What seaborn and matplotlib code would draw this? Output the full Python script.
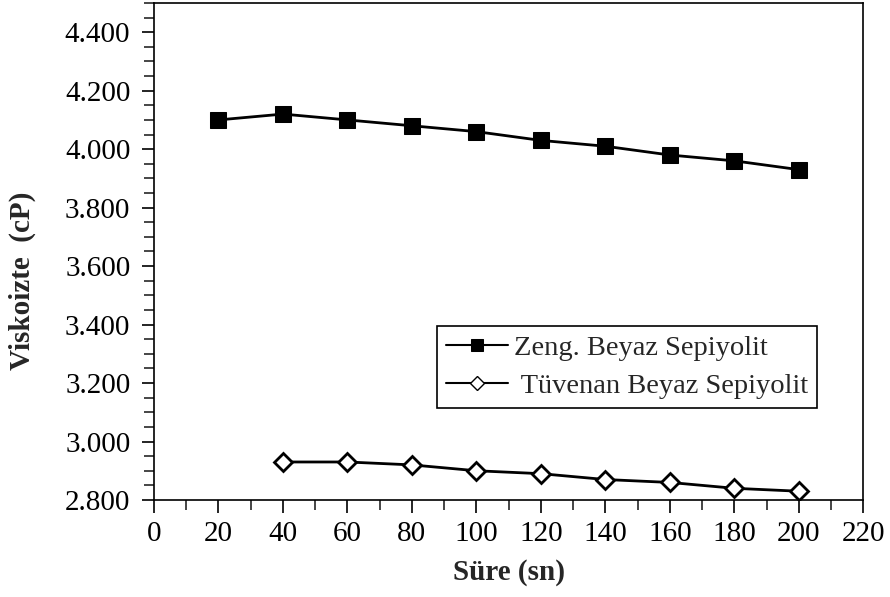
import matplotlib
matplotlib.use("Agg")
import matplotlib.pyplot as plt
from matplotlib.ticker import MultipleLocator, FuncFormatter
import seaborn as sns
import pandas as pd

# Viscosity over time for the two sepiolite samples
sure_zeng = [20, 40, 60, 80, 100, 120, 140, 160, 180, 200]
visk_zeng = [4100, 4120, 4100, 4080, 4060, 4030, 4010, 3980, 3960, 3930]

sure_tuv = [40, 60, 80, 100, 120, 140, 160, 180, 200]
visk_tuv = [2930, 2930, 2920, 2900, 2890, 2870, 2860, 2840, 2830]

label_zeng = "Zeng. Beyaz Sepiyolit"
label_tuv = " Tüvenan Beyaz Sepiyolit"

sns.set_style("ticks")
plt.rcParams["font.family"] = ["Liberation Serif", "DejaVu Serif"]

fig = plt.figure(figsize=(8.9, 5.97), dpi=100)
ax = fig.add_axes([0.173, 0.1625, 0.797, 0.8325])

df_zeng = pd.DataFrame({"Süre": sure_zeng, "Viskozite": visk_zeng})
df_tuv = pd.DataFrame({"Süre": sure_tuv, "Viskozite": visk_tuv})

sns.lineplot(data=df_zeng, x="Süre", y="Viskozite", ax=ax, color="black",
             linewidth=2, marker="s", markersize=12, markerfacecolor="black",
             markeredgecolor="black", label=label_zeng)
sns.lineplot(data=df_tuv, x="Süre", y="Viskozite", ax=ax, color="black",
             linewidth=2, marker="D", markersize=9, markerfacecolor="white",
             markeredgecolor="black", markeredgewidth=2, label=label_tuv)

ax.set_xlim(0, 220)
ax.set_ylim(2800, 4500)
ax.xaxis.set_major_locator(MultipleLocator(20))
ax.xaxis.set_minor_locator(MultipleLocator(10))
ax.yaxis.set_major_locator(MultipleLocator(200))
ax.yaxis.set_minor_locator(MultipleLocator(50))
ax.yaxis.set_major_formatter(FuncFormatter(lambda v, p: f"{v:,.0f}".replace(",", ".")))
ax.yaxis.set_ticks([t for t in range(2800, 4401, 200)])

ax.tick_params(axis="both", which="major", direction="out", length=9, width=1.2,
               labelsize=21, colors="black")
ax.tick_params(axis="y", which="major", pad=8)
ax.tick_params(axis="x", which="major", pad=6)
ax.tick_params(axis="both", which="minor", direction="out", length=7, width=1.2)

for sp in ax.spines.values():
    sp.set_color("black")
    sp.set_linewidth(1.2)

ax.set_xlabel("Süre (sn)", fontsize=21, fontweight="bold", labelpad=9)
ax.set_ylabel("Viskoizte  (cP)", fontsize=21, fontweight="bold")
ax.yaxis.set_label_coords(-0.166, 0.44)

leg = ax.legend(loc="upper left", bbox_to_anchor=(0.399, 0.350), fontsize=20.5,
                frameon=True, fancybox=False, edgecolor="black",
                handlelength=2.2, borderpad=0.3, labelspacing=0.45,
                handletextpad=0.2, borderaxespad=0)
leg.get_frame().set_linewidth(1.2)
leg.get_frame().set_alpha(1)
for h in leg.legend_handles:
    h.set_linewidth(1.5)
leg.legend_handles[0].set_markersize(9)
leg.legend_handles[1].set_markersize(7)
leg.legend_handles[1].set_markeredgewidth(1)

fig.savefig("out.png", dpi=100)
